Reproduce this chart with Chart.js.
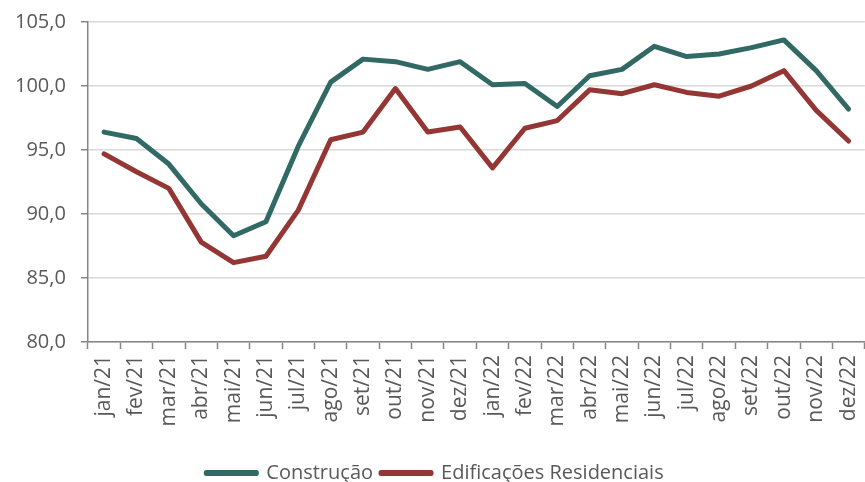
<!DOCTYPE html>
<html>
<head>
<meta charset="utf-8">
<script src="https://cdn.jsdelivr.net/npm/chart.js@4"></script>
<style>
    html, body { margin: 0; padding: 0; background: #fff; overflow: hidden; }
    #wrap { width: 880px; height: 482px; }
</style>
</head>
<body>
<div id="wrap"><canvas id="chart"></canvas></div>
<script>
// meses
const meses = ['jan/21', 'fev/21', 'mar/21', 'abr/21', 'mai/21', 'jun/21',
               'jul/21', 'ago/21', 'set/21', 'out/21', 'nov/21', 'dez/21',
               'jan/22', 'fev/22', 'mar/22', 'abr/22', 'mai/22', 'jun/22',
               'jul/22', 'ago/22', 'set/22', 'out/22', 'nov/22', 'dez/22'];

// séries
const construcao = [96.4, 95.9, 93.9, 90.8, 88.3, 89.4, 95.3, 100.3, 102.1, 101.9, 101.3, 101.9,
                    100.1, 100.2, 98.4, 100.8, 101.3, 103.1, 102.3, 102.5, 103.0, 103.6, 101.2, 98.2];
const edificacoes = [94.7, 93.3, 92.0, 87.8, 86.2, 86.7, 90.3, 95.8, 96.4, 99.8, 96.4, 96.8,
                     93.6, 96.7, 97.3, 99.7, 99.4, 100.1, 99.5, 99.2, 100.0, 101.2, 98.1, 95.7];

// eixo y
const yMin = 80, yMax = 105, yStep = 5;

const cinza = '#595959';
const fonte = "'Open Sans', sans-serif";

const serie = (label, data, cor) => ({
    label, data,
    borderColor: cor, backgroundColor: cor,
    borderWidth: 5, pointRadius: 0, tension: 0,
    borderCapStyle: 'round', borderJoinStyle: 'round'
});

new Chart(document.getElementById('chart'), {
    type: 'line',
    data: {
        labels: meses,
        datasets: [
            serie('Construção', construcao, '#316964'),
            serie('Edificações Residenciais', edificacoes, '#943634')
        ]
    },
    options: {
        responsive: true,
        maintainAspectRatio: false,
        animation: false,
        layout: { padding: { top: 22, right: 10, left: 0, bottom: -11 } },
        plugins: {
            tooltip: { enabled: false },
            legend: {
                position: 'bottom',
                labels: {
                    boxWidth: 50,
                    boxHeight: 1,
                    useBorderRadius: true,
                    borderRadius: 1,
                    color: cinza,
                    font: { family: fonte, size: 20 },
                    padding: 8
                }
            }
        },
        scales: {
            x: {
                offset: true,
                afterFit: s => { s.height = 113; },
                grid: {
                    offset: true,
                    drawOnChartArea: false,
                    tickLength: 7,
                    tickColor: '#868686',
                    tickWidth: 1.5
                },
                border: { color: '#868686', width: 1.5 },
                ticks: {
                    autoSkip: false,
                    minRotation: 90,
                    maxRotation: 90,
                    color: cinza,
                    padding: 6,
                    font: { family: fonte, size: 21 }
                }
            },
            y: {
                min: yMin,
                max: yMax,
                afterFit: s => { s.paddingTop = 0; },
                ticks: {
                    stepSize: yStep,
                    color: cinza,
                    padding: 15,
                    font: { family: fonte, size: 20 },
                    callback: v => v.toFixed(1).replace('.', ',')
                },
                grid: {
                    color: '#D9D9D9',
                    lineWidth: 1.5,
                    tickLength: 7,
                    tickColor: '#868686'
                },
                border: { color: '#868686', width: 1.5 }
            }
        }
    }
});
</script>
</body>
</html>
